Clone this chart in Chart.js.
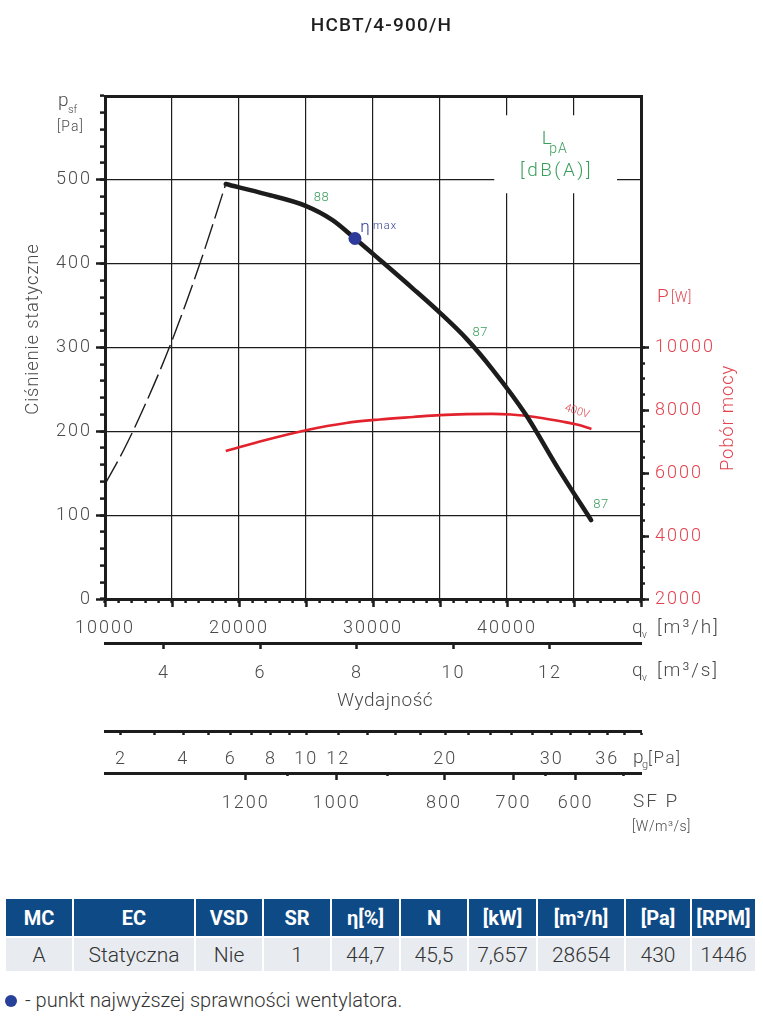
<!DOCTYPE html>
<html lang="pl">
<head>
<meta charset="UTF-8">
<title>HCBT/4-900/H</title>
<script src="https://cdn.jsdelivr.net/npm/chart.js"></script>
<style>
    body { margin: 0; background: #fff; font-family: Roboto, sans-serif; }
    .wrap { position: relative; width: 763px; height: 860px; }
    .params { border-collapse: separate; border-spacing: 2px; margin: 37px 0 0 4px; font-family: Roboto, sans-serif; }
    .params th { background: #0e4a86; color: #fff; font-weight: 700; font-size: 20px; height: 37px; padding: 0; text-align: center; }
    .params td { background: #e8ecf0; color: #333; font-size: 21px; font-weight: 300; height: 33px; padding: 0; text-align: center; }
    .note { margin: 15px 0 0 5px; font-size: 20px; color: #333; font-weight: 300; }
    .note .dot { display: inline-block; width: 12px; height: 12px; border-radius: 50%; background: #27409a; margin-right: 8px; vertical-align: 0; }
</style>
</head>
<body>
<div class="wrap"><canvas id="fanChart"></canvas></div>
<table class="params" id="params"></table>
<div class="note"><span class="dot"></span>- punkt najwyższej sprawności wentylatora.</div>

<script>
// krzywa ciśnienia statycznego [m3/h] -> [Pa]
const flowQ    = [19010, 22000, 24970, 26980, 28654, 30480, 33000, 35020, 37000, 38910, 41400, 43880, 46280];
const pressure = [495, 483, 469, 452, 430, 405, 370, 341, 310, 274, 220, 154, 94];

// krzywa instalacji (przerywana)
const sysQ = [10000, 11500, 13000, 14500, 16000, 17500, 19010];
const sysP = [137, 181, 232, 288, 351, 420, 495];

// pobór mocy [W], 400V
const powerQ = [19010, 22000, 25000, 28000, 30500, 33000, 35000, 37000, 38900, 40300, 41200, 42700, 44100, 45300, 46300];
const power  = [6710, 7060, 7370, 7600, 7710, 7790, 7850, 7880, 7890, 7870, 7835, 7750, 7645, 7540, 7410];

// punkt najwyższej sprawności
const bestQ = [28654];
const bestP = [430];

// osie
const qhTicks = [10000, 20000, 30000, 40000];
const psfTicks = [0, 100, 200, 300, 400, 500];
const powerTicks = [2000, 4000, 6000, 8000, 10000];
const qsTicks = [4, 6, 8, 10, 12];
const pgTicks  = [2, 3, 4, 5, 6, 7, 8, 9, 10, 12, 14, 16, 18, 20, 22, 24, 26, 28, 30, 32, 34, 36, 38, 40];
const pgTickQ  = [11190, 13710, 15830, 17690, 19380, 20940, 22380, 23740, 25020, 27410, 29610, 31650,
                  33570, 35390, 37120, 38770, 40350, 41870, 43340, 44760, 46140, 47480, 48780, 50000];
const pgLabels = [2, 4, 6, 8, 10, 12, 20, 30, 36];
const sfpTicks = [1200, 1000, 800, 700, 600];
const sfpTickQ = [20500, 27300, 35300, 40480, 45120];
const sfpMinorQ = [23650, 31050, 42890, 48720];

// tabela
const tableHead = ['MC', 'EC', 'VSD', 'SR', 'η[%]', 'N', '[kW]', '[m³/h]', '[Pa]', '[RPM]'];
const tableRow  = ['A', 'Statyczna', 'Nie', '1', '44,7', '45,5', '7,657', '28654', '430', '1446'];
const colWidths = [66, 120, 66, 66, 67, 66, 67, 86, 64, 63];

const INK = '#1c1c1c';
const TXT = '#4a4a4a';
const RED = '#e2434f';
const GREEN = '#3a9f5c';
const BLUE = '#2d3a94';
const tickFont = { family: 'Roboto', size: 18, weight: '300' };

function buildTable() {
    const t = document.getElementById('params');
    t.innerHTML = '<tr>' + tableHead.map((h, i) => `<th style="width:${colWidths[i]}px">${h}</th>`).join('') + '</tr>' +
                  '<tr>' + tableRow.map(v => `<td>${v}</td>`).join('') + '</tr>';
}
buildTable();

function pts(xs, ys) { return xs.map((x, i) => ({ x: x, y: ys[i] })); }
function fixH(px) { return s => { s.height = px; }; }
function fixW(px) { return s => { s.width = px; }; }
function setTicks(values) { return s => { s.ticks = values.map(v => ({ value: v })); }; }

function txt(ctx, s, x, y, size, color, o = {}) {
    ctx.save();
    ctx.font = `${o.weight || 300} ${size}px Roboto, sans-serif`;
    ctx.fillStyle = color;
    ctx.textAlign = o.align || 'left';
    ctx.textBaseline = 'middle';
    ctx.letterSpacing = (o.ls || 0) + 'px';
    if (o.rot) {
        ctx.translate(x, y);
        ctx.rotate(o.rot);
        ctx.fillText(s, 0, 0);
    } else {
        ctx.fillText(s, x, y);
    }
    ctx.restore();
}

const annotate = {
    id: 'annotate',
    beforeDraw(chart) {
        chart.ctx.letterSpacing = '2px';
    },
    beforeDatasetsDraw(chart) {
        // tlo pod opisem LpA
        const { ctx, scales } = chart;
        const x1 = scales.x.getPixelForValue(39050), x2 = scales.x.getPixelForValue(48212);
        const y1 = scales.y.getPixelForValue(577), y2 = scales.y.getPixelForValue(484);
        ctx.save();
        ctx.fillStyle = '#fff';
        ctx.fillRect(x1, y1, x2 - x1, y2 - y1);
        ctx.restore();
    },
    afterDraw(chart) {
        const { ctx, scales, chartArea } = chart;
        const X = v => scales.x.getPixelForValue(v);
        const Y = v => scales.y.getPixelForValue(v);
        const Y2 = v => scales.y2.getPixelForValue(v);
        const L = chartArea.left, R = chartArea.right, T = chartArea.top;

        txt(ctx, 'HCBT/4-900/H', chart.width / 2, 26, 19, '#1e1e1e', { align: 'center', weight: 500, ls: 1.2 });

        // os lewa
        txt(ctx, 'p', L - 47, T + 5, 19, TXT);
        txt(ctx, 'sf', L - 37, T + 14, 11, TXT);
        txt(ctx, '[Pa]', L - 48, T + 31, 14, TXT, { ls: 1 });
        txt(ctx, 'Ciśnienie statyczne', L - 72, Y(322), 18.5, TXT, { align: 'center', rot: -Math.PI / 2, ls: 0.8 });

        // LpA
        txt(ctx, 'L', X(42600), Y(548), 19, GREEN);
        txt(ctx, 'pA', X(43150), Y(536), 14, GREEN, { ls: 1 });
        txt(ctx, '[dB(A)]', X(43700), Y(510), 19, GREEN, { align: 'center', ls: 2.5 });
        txt(ctx, '88', X(26160), Y(479), 13, GREEN, { align: 'center', ls: 0.5 });
        txt(ctx, '87', X(38000), Y(317), 13, GREEN, { align: 'center', ls: 0.5 });
        txt(ctx, '87', X(47020), Y(113), 13, GREEN, { align: 'center', ls: 0.5 });

        // eta max
        txt(ctx, 'η', X(29050), Y(443), 17, BLUE);
        txt(ctx, 'max', X(30000), Y(445), 11, BLUE, { ls: 1 });

        // moc
        txt(ctx, '400V', X(45230), Y2(7960), 11, RED, { align: 'center', rot: 0.3 });
        txt(ctx, 'P', R + 16, Y2(11600), 19, RED);
        txt(ctx, '[W]', R + 30, Y2(11550), 14, RED, { ls: 0.5 });
        txt(ctx, 'Pobór mocy', R + 87, Y2(7760), 18.5, RED, { align: 'center', rot: -Math.PI / 2, ls: 0.8 });

        // opisy osi dolnych
        const qy1 = scales.x.top + 29, qy2 = scales.xs.top + 28;
        [[qy1, '[m³/h]'], [qy2, '[m³/s]']].forEach(([yy, s]) => {
            txt(ctx, 'q', R - 9, yy, 19, TXT);
            txt(ctx, 'v', R + 1, yy + 7, 10, TXT);
            txt(ctx, s, R + 16, yy, 19, TXT, { ls: 2 });
        });
        txt(ctx, 'Wydajność', X(30900), scales.xs.top + 58, 19, TXT, { align: 'center', ls: 0.5 });
        const py = scales.pg.top + 28;
        txt(ctx, 'p', R - 8, py - 1, 19, TXT);
        txt(ctx, 'g', R + 1, py + 6, 11, TXT);
        txt(ctx, '[Pa]', R + 7, py, 17, TXT, { ls: 1.5 });
        txt(ctx, 'SF P', R - 8, scales.sfp.top + 29, 19, TXT, { ls: 2 });
        txt(ctx, '[W/m³/s]', R - 9, scales.sfp.top + 54, 14, TXT, { ls: 0.5 });
    }
};

const tickGrid = (len, extra) => Object.assign({ drawOnChartArea: false, tickLength: len, tickWidth: 2.5, tickColor: INK }, extra || {});
const qAxis = { type: 'linear', min: 10000, max: 50000 };

new Chart(document.getElementById('fanChart'), {
    type: 'line',
    data: {
        datasets: [
            {
                data: pts(bestQ, bestP),
                showLine: false,
                pointRadius: 6.5,
                pointBackgroundColor: '#2d3a9a',
                pointBorderWidth: 0
            },
            {
                data: pts(flowQ, pressure),
                borderColor: INK,
                borderWidth: 4.5,
                borderCapStyle: 'round',
                pointRadius: 0,
                cubicInterpolationMode: 'monotone'
            },
            {
                data: pts(sysQ, sysP),
                borderColor: INK,
                borderWidth: 1.4,
                borderDash: [26, 6],
                pointRadius: 0,
                cubicInterpolationMode: 'monotone'
            },
            {
                data: pts(powerQ, power),
                yAxisID: 'y2',
                borderColor: '#e2232d',
                borderWidth: 2.6,
                pointRadius: 0,
                cubicInterpolationMode: 'monotone'
            }
        ]
    },
    options: {
        responsive: true,
        maintainAspectRatio: false,
        animation: false,
        layout: { padding: 0 },
        plugins: { legend: { display: false }, tooltip: { enabled: false } },
        scales: {
            xTop: Object.assign({}, qAxis, {
                position: 'top',
                afterFit: fixH(96),
                ticks: { display: false },
                grid: { drawOnChartArea: false, drawTicks: false },
                border: { color: INK, width: 3 }
            }),
            xMaj: Object.assign({}, qAxis, {
                position: 'bottom', weight: 0,
                afterFit: fixH(0),
                ticks: { display: false, stepSize: 5000 },
                grid: tickGrid(8),
                border: { display: false }
            }),
            x: Object.assign({}, qAxis, {
                position: 'bottom', weight: 1,
                afterFit: fixH(44),
                ticks: {
                    stepSize: 1000, autoSkip: false, maxRotation: 0, padding: 15,
                    color: TXT, font: tickFont,
                    callback: v => qhTicks.includes(v) ? String(v) : ''
                },
                grid: {
                    color: c => (c.tick && c.tick.value % 5000 === 0 && c.tick.value > 10000 && c.tick.value < 50000) ? INK : 'transparent',
                    lineWidth: 1.2, tickLength: 4, tickWidth: 2.5, tickColor: INK
                },
                border: { color: INK, width: 3 }
            }),
            xs: Object.assign({}, qAxis, {
                position: 'bottom', weight: 2,
                afterFit: fixH(88),
                afterBuildTicks: setTicks(qsTicks.map(v => v * 3600)),
                ticks: {
                    autoSkip: false, maxRotation: 0, padding: 14, color: TXT, font: tickFont,
                    callback: v => String(v / 3600)
                },
                grid: tickGrid(6),
                border: { color: INK, width: 3 }
            }),
            pg: Object.assign({}, qAxis, {
                position: 'bottom', weight: 3,
                afterFit: fixH(42),
                afterBuildTicks: setTicks(pgTickQ),
                ticks: {
                    autoSkip: false, maxRotation: 0, padding: 14, color: TXT, font: tickFont,
                    callback: (v, i) => pgLabels.includes(pgTicks[i]) ? String(pgTicks[i]) : ''
                },
                grid: tickGrid(4),
                border: { color: INK, width: 3 }
            }),
            sfpMinor: Object.assign({}, qAxis, {
                position: 'bottom', weight: 4,
                afterFit: fixH(0),
                afterBuildTicks: setTicks(sfpMinorQ),
                ticks: { display: false },
                grid: tickGrid(3),
                border: { display: false }
            }),
            sfp: Object.assign({}, qAxis, {
                position: 'bottom', weight: 5,
                afterFit: fixH(87),
                afterBuildTicks: setTicks(sfpTickQ),
                ticks: {
                    autoSkip: false, maxRotation: 0, padding: 13, color: TXT, font: tickFont,
                    callback: (v, i) => String(sfpTicks[i])
                },
                grid: tickGrid(7),
                border: { color: INK, width: 3 }
            }),
            y: {
                type: 'linear', position: 'left', weight: 1, min: 0, max: 600,
                afterFit: fixW(105),
                ticks: {
                    stepSize: 20, autoSkip: false, padding: 8, color: TXT, font: tickFont,
                    callback: v => psfTicks.includes(v) ? String(v) : ''
                },
                grid: {
                    color: c => (c.tick && c.tick.value % 100 === 0 && c.tick.value > 0 && c.tick.value < 600) ? INK : 'transparent',
                    lineWidth: 1.2, tickLength: 5, tickWidth: 2.5, tickColor: INK
                },
                border: { color: INK, width: 3 }
            },
            yMaj: {
                type: 'linear', position: 'left', weight: 0, min: 0, max: 600,
                afterFit: fixW(0),
                afterBuildTicks: setTicks(psfTicks),
                ticks: { display: false },
                grid: tickGrid(9),
                border: { display: false }
            },
            y2Maj: {
                type: 'linear', position: 'right', weight: 0, min: 2000, max: 18000,
                afterFit: fixW(0),
                afterBuildTicks: setTicks(powerTicks),
                ticks: { display: false },
                grid: tickGrid(8),
                border: { display: false }
            },
            y2: {
                type: 'linear', position: 'right', weight: 1, min: 2000, max: 18000,
                afterFit: fixW(122),
                ticks: {
                    stepSize: 500, autoSkip: false, padding: 10, color: RED, font: tickFont,
                    callback: v => powerTicks.includes(v) ? String(v) : ''
                },
                afterBuildTicks: s => { s.ticks = s.ticks.filter(t => t.value <= 10000); },
                grid: { drawOnChartArea: false, tickLength: 4, tickWidth: 2.5, tickColor: INK },
                border: { color: INK, width: 3 }
            }
        }
    },
    plugins: [annotate]
});
</script>
</body>
</html>
